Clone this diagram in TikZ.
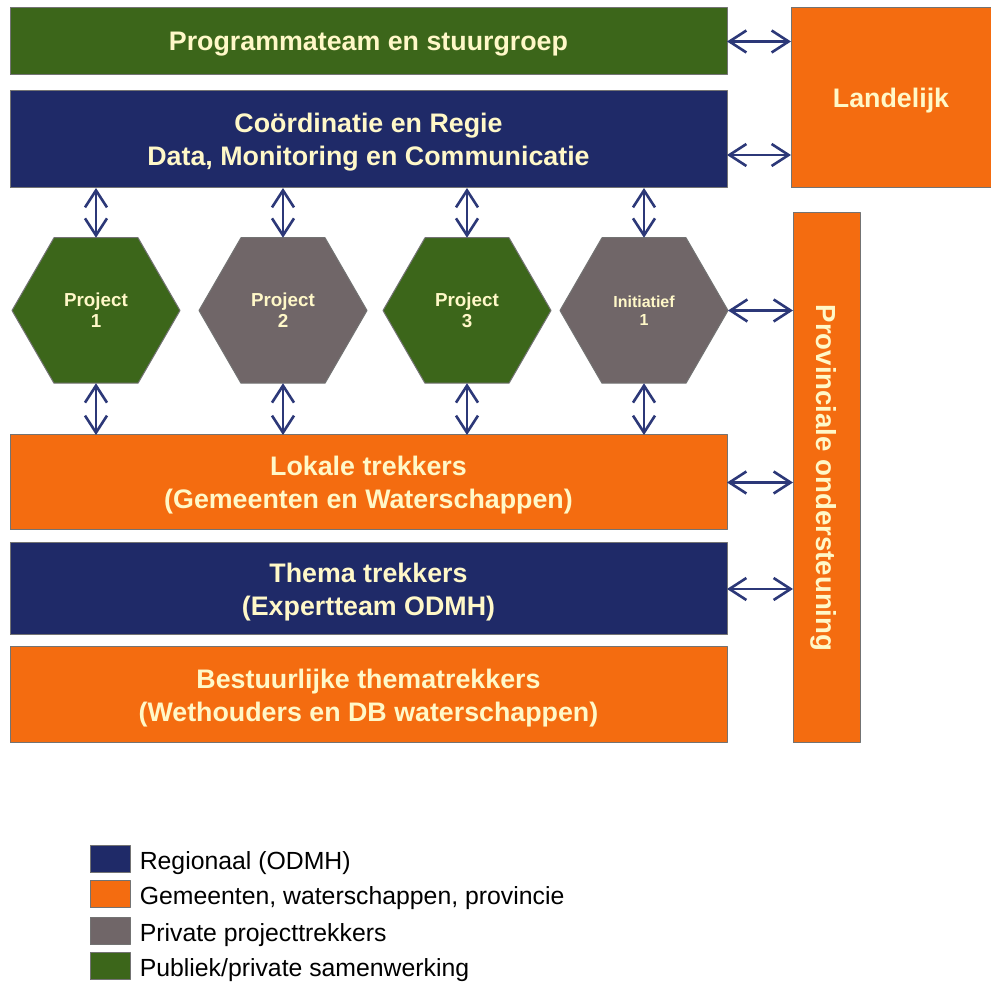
\documentclass[tikz,border=0pt]{standalone}
\usepackage{fontspec}
\setmainfont{Liberation Sans}
\usetikzlibrary{arrows.meta,shapes.geometric,positioning}

\definecolor{odmhblue}{RGB}{31,42,104}
\definecolor{gemorange}{RGB}{244,108,16}
\definecolor{privgrey}{RGB}{112,102,104}
\definecolor{pubgreen}{RGB}{60,102,26}
\definecolor{labelcream}{RGB}{255,248,200}
\definecolor{linkblue}{RGB}{44,56,120}

\newcommand{\legendItem}[4]{%
  \node[legsq,fill=#2] (sq#1) at (110,#3) {};
  \node[legtxt] (txt#1) at ([xshift=4.5pt,yshift=1.5pt]sq#1.south east) {#4};}

\begin{document}
\begin{tikzpicture}[x=0.5pt,y=-0.5pt,line join=round,
    >={Straight Barb[length=8.5pt,width=11pt]},
    bar/.style={draw=black!55,line width=0.5pt,anchor=north west,text=labelcream,
      align=center,inner sep=0pt,outer sep=0pt,text depth=0pt,
      font=\fontsize{13.4}{16.5}\selectfont\bfseries},
    hexa/.style={regular polygon,regular polygon sides=6,minimum size=84pt,
      draw=black!55,line width=0.5pt,inner sep=0pt,outer sep=0pt,
      text=labelcream,align=center,font=\fontsize{9.4}{10.5}\selectfont\bfseries},
    link/.style={<->,draw=linkblue,line width=1.3pt},
    legsq/.style={draw=black!55,line width=0.4pt,minimum width=20pt,
      minimum height=13.5pt,inner sep=0pt},
    legtxt/.style={anchor=base west,inner sep=0pt,
      font=\fontsize{12.4}{14}\selectfont}]
  \useasboundingbox[fill=white] (0,0) rectangle (991,983);

  % bars on the left
  \node[bar,fill=pubgreen,minimum width=358.5pt,minimum height=33.5pt] (prog) at (10,8) {Programmateam en stuurgroep};
  \node[bar,fill=odmhblue,minimum width=358.5pt,minimum height=48.5pt] (coord) at (10,91) {Coördinatie en Regie\\Data, Monitoring en Communicatie};
  \node[bar,fill=gemorange,minimum width=358.5pt,minimum height=47.5pt] (lok) at (10,435) {Lokale trekkers\\(Gemeenten en Waterschappen)};
  \node[bar,fill=odmhblue,minimum width=358.5pt,minimum height=46pt] (thema) at (10,543) {Thema trekkers\\(Expertteam ODMH)};
  \node[bar,fill=gemorange,minimum width=358.5pt,minimum height=48pt] (bestuur) at (10,647) {Bestuurlijke thematrekkers\\(Wethouders en DB waterschappen)};

  % right column
  \node[bar,fill=gemorange,minimum width=100pt,minimum height=90pt] (land) at (791,8) {Landelijk};
  \node[bar,fill=gemorange,anchor=center,rotate=-90,minimum width=265pt,minimum height=33.5pt,
    font=\fontsize{13.8}{16}\selectfont\bfseries] (prov) at (826.5,478) {Provinciale ondersteuning};

  % projects
  \foreach \x/\c [count=\i] in {96/pubgreen,283/privgrey,467/pubgreen}
    \node[hexa,fill=\c] (p\i) at (\x,310.5) {Project\\\i};
  \node[hexa,fill=privgrey,font=\fontsize{8}{9}\selectfont\bfseries] (ini) at (644,310.5) {Initiatief\\1};

  % connectors
  \foreach \h in {p1,p2,p3,ini} {
      \draw[link] (\h.north |- coord.south) -- (\h.north);
      \draw[link] (\h.south) -- (\h.south |- lok.north);
    }
  \coordinate (coordR) at ([yshift=-7.75pt]coord.east);
  \draw[link] (prog.east) -- (prog.east -| land.west);
  \draw[link] (coordR) -- (coordR -| land.west);
  \draw[link] (ini.east) -- (ini.east -| prov.south);
  \draw[link] (lok.east) -- (lok.east -| prov.south);
  \draw[link] (thema.east) -- (thema.east -| prov.south);

  % legend
  \legendItem{1}{odmhblue}{859}{Regionaal (ODMH)}
  \legendItem{2}{gemorange}{894}{Gemeenten, waterschappen, provincie}
  \legendItem{3}{privgrey}{931}{Private projecttrekkers}
  \legendItem{4}{pubgreen}{966}{Publiek/private samenwerking}
\end{tikzpicture}
\end{document}
